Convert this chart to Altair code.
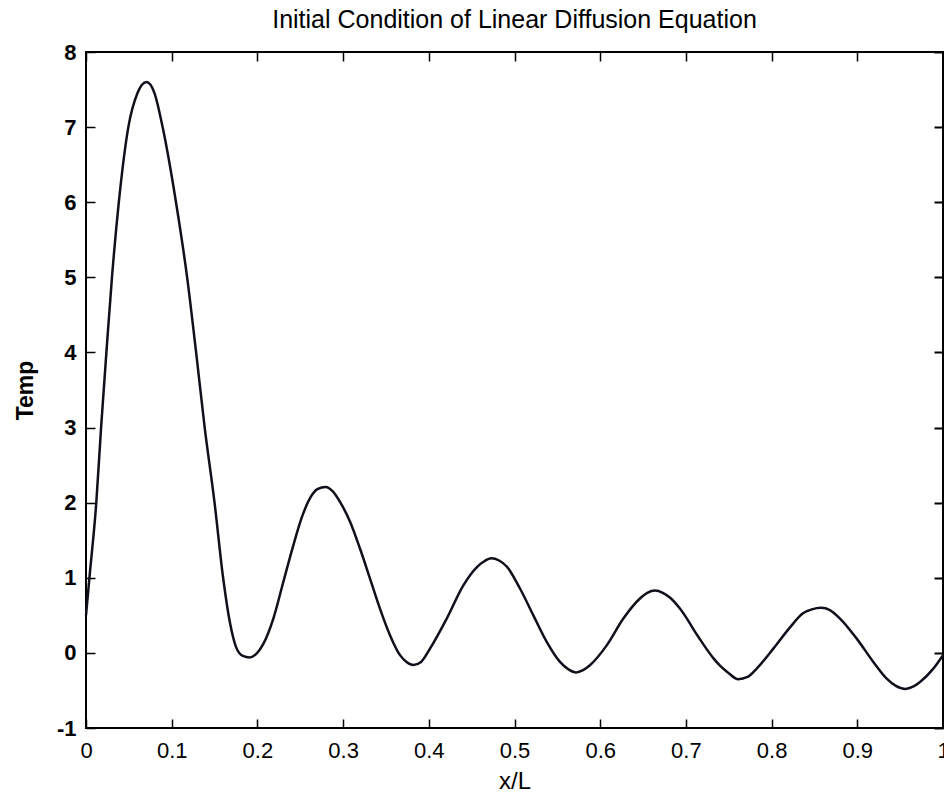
import altair as alt
import pandas as pd

# Values
x_pos = [0.000, 0.004, 0.012, 0.0176, 0.0238, 0.0303, 0.0383, 0.0494, 0.060, 0.0706,
         0.080, 0.0894, 0.105, 0.118, 0.1285, 0.1385, 0.150, 0.160, 0.168, 0.175,
         0.183, 0.191, 0.199, 0.2069, 0.2186, 0.2303, 0.242, 0.2517, 0.2614, 0.270,
         0.2797, 0.288, 0.2964, 0.308, 0.3197, 0.3314, 0.343, 0.3547, 0.3664, 0.374,
         0.382, 0.391, 0.4014, 0.4209, 0.4403, 0.4559, 0.4647, 0.473, 0.482, 0.4909,
         0.5064, 0.522, 0.5376, 0.5531, 0.563, 0.572, 0.580, 0.588, 0.6076, 0.627,
         0.6464, 0.655, 0.664, 0.673, 0.682, 0.693, 0.701, 0.709, 0.7165, 0.7242,
         0.732, 0.7398, 0.750, 0.761, 0.772, 0.7826, 0.802, 0.8215, 0.837, 0.847,
         0.858, 0.868, 0.8798, 0.8993, 0.9187, 0.9343, 0.945, 0.956, 0.965, 0.9732,
         0.9887, 1.000]
temp = [0.50, 1.00, 2.00, 3.00, 4.00, 5.00, 6.00, 7.00, 7.45, 7.60,
        7.45, 7.00, 6.00, 5.00, 4.00, 3.00, 2.00, 1.00, 0.40, 0.08,
        -0.04, -0.06, -0.01, 0.12, 0.457, 0.947, 1.436, 1.80, 2.06, 2.18,
        2.21, 2.15, 2.01, 1.75, 1.39, 0.99, 0.59, 0.236, -0.03, -0.12,
        -0.16, -0.12, 0.057, 0.457, 0.90, 1.14, 1.22, 1.26, 1.23, 1.15,
        0.857, 0.50, 0.147, -0.12, -0.22, -0.26, -0.23, -0.164, 0.10, 0.457,
        0.724, 0.80, 0.83, 0.80, 0.73, 0.59, 0.46, 0.31, 0.18, 0.05,
        -0.07, -0.17, -0.27, -0.35, -0.32, -0.209, 0.057, 0.34, 0.53, 0.58,
        0.60, 0.57, 0.457, 0.19, -0.12, -0.343, -0.44, -0.48, -0.45, -0.387,
        -0.209, -0.03]

x_ticks = [0, 0.1, 0.2, 0.3, 0.4, 0.5, 0.6, 0.7, 0.8, 0.9, 1]
y_ticks = [-1, 0, 1, 2, 3, 4, 5, 6, 7, 8]

title_text = "Initial Condition of Linear Diffusion Equation"
x_title = "x/L"
y_title = "Temp"

df = pd.DataFrame({"x": x_pos, "temp": temp})

FONT = "Liberation Sans, Arial, sans-serif"
TICK = 9
W, H = 857, 676

xs = alt.Scale(domain=[0, 1], nice=False, zero=False)
ys = alt.Scale(domain=[-1, 8], nice=False, zero=False)

main = alt.Chart(df).mark_line(
    color="#10101c", strokeWidth=2.5, interpolate="monotone"
).encode(
    x=alt.X("x:Q", scale=xs, axis=alt.Axis(
        orient="bottom", values=x_ticks, labelExpr="datum.value + ''",
        offset=-TICK, tickSize=TICK, tickWidth=1.5, tickColor="black",
        domain=False, grid=False,
        labelFont=FONT, labelFontSize=22, labelColor="black", labelPadding=12,
        labelFlush=False, labelOverlap=False,
        title=x_title, titleFont=FONT, titleFontSize=24, titleFontWeight="normal",
        titleColor="black", titlePadding=8)),
    y=alt.Y("temp:Q", scale=ys, axis=alt.Axis(
        orient="left", values=y_ticks, labelExpr="datum.value + ''",
        offset=-TICK, tickSize=TICK, tickWidth=1.5, tickColor="black",
        domain=False, grid=False,
        labelFont=FONT, labelFontSize=22, labelFontWeight="bold", labelColor="black",
        labelPadding=10, labelFlush=False, labelOverlap=False,
        title=y_title, titleFont=FONT, titleFontSize=23, titleFontWeight="bold",
        titleColor="black", titlePadding=19)),
)

frame = alt.Chart(df).mark_line(opacity=0).encode(
    x=alt.X("x:Q", scale=xs, axis=alt.Axis(
        orient="top", values=x_ticks, offset=-TICK, tickSize=TICK, tickWidth=1.5,
        tickColor="black", domain=False, grid=False, labels=False, title=None)),
    y=alt.Y("temp:Q", scale=ys, axis=alt.Axis(
        orient="right", values=y_ticks, offset=-TICK, tickSize=TICK, tickWidth=2,
        tickColor="black", domain=False, grid=False, labels=False, title=None)),
)

chart = alt.layer(main, frame).resolve_axis(
    x="independent", y="independent"
).properties(
    width=W, height=H,
    background="white",
    title=alt.TitleParams(title_text, font=FONT, fontSize=25, fontWeight="normal",
                          color="black", anchor="middle", frame="group",
                          baseline="alphabetic", offset=20, dy=32),
    padding={"left": 86, "top": 52, "right": 1, "bottom": 67},
    autosize=alt.AutoSizeParams(type="none"),
).configure_view(stroke="black", strokeWidth=2)

chart.save("out.html", embed_options={"renderer": "svg", "actions": False})
